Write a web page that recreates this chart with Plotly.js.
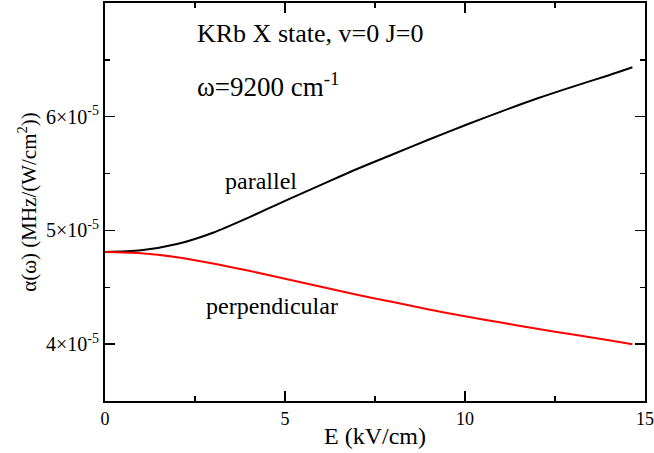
<!DOCTYPE html>
<html>
<head>
<meta charset="utf-8">
<script src="https://cdn.plot.ly/plotly-3.0.1.min.js"></script>
<style>html,body{margin:0;padding:0;background:#fff;}#plot{width:654px;height:453px;}</style>
</head>
<body>
<div id="plot"></div>
<script>
// E field (kV/cm)
const fieldE = [0, 1, 2, 3, 4, 5, 6, 7, 8, 9, 10, 11, 12, 13, 14, 14.65];
// polarizability (units of 1e-5 MHz/(W/cm^2))
const parallel = [4.81, 4.825, 4.88, 4.98, 5.115, 5.26, 5.40, 5.54, 5.67, 5.80, 5.925, 6.045, 6.16, 6.265, 6.365, 6.435];
const perpendicular = [4.81, 4.80, 4.765, 4.71, 4.645, 4.575, 4.505, 4.435, 4.37, 4.305, 4.245, 4.19, 4.135, 4.085, 4.035, 4.0];
const yTickVals = [4, 5, 6];
const yTickText = ["4×10<sup>-5</sup>", "5×10<sup>-5</sup>", "6×10<sup>-5</sup>"];
const xTickVals = [0, 5, 10, 15];

const scale = 1e-5;
const F = "Liberation Serif, Times New Roman, serif";
const W = 540;

const traces = [
  {x: fieldE, y: parallel.map(v => v * scale), mode: 'lines', line: {color: '#000000', width: 2, shape: 'spline', smoothing: 0.8}, name: 'parallel'},
  {x: fieldE, y: perpendicular.map(v => v * scale), mode: 'lines', line: {color: '#ff0000', width: 2, shape: 'spline', smoothing: 0.8}, name: 'perpendicular'}
];

const layout = {
  width: 654, height: 453,
  margin: {l: 105, r: 9, t: 3, b: 52},
  paper_bgcolor: '#fff', plot_bgcolor: '#fff',
  showlegend: false,
  font: {family: F, color: '#000'},
  xaxis: {
    range: [0, 15], tickmode: 'array', tickvals: xTickVals, ticktext: xTickVals.map(String),
    ticks: 'inside', ticklen: 10, tickwidth: 1.5, tickcolor: '#000',
    minor: {ticks: 'inside', ticklen: 5, tickwidth: 1.5, tickcolor: '#000', dtick: 2.5, tick0: 0},
    showline: true, linewidth: 2, linecolor: '#000', mirror: 'ticks',
    showgrid: false, zeroline: false, ticklabeloverflow: 'allow',
    tickfont: {family: F, size: 18, color: '#000'},
    title: {text: 'E (kV/cm)', font: {family: F, size: 24, color: '#000'}, standoff: 0}
  },
  yaxis: {
    range: [3.5e-5, 7.0e-5], tickmode: 'array', tickvals: yTickVals.map(v => v * scale), ticktext: yTickText,
    ticks: 'inside', ticklen: 10, tickwidth: 1.5, tickcolor: '#000',
    minor: {ticks: 'inside', ticklen: 5, tickwidth: 1.5, tickcolor: '#000', tickmode: 'array', tickvals: [4.5e-5, 5.5e-5, 6.5e-5]},
    showline: true, linewidth: 2, linecolor: '#000', mirror: 'ticks',
    showgrid: false, zeroline: false, ticklabeloverflow: 'allow',
    tickfont: {family: F, size: 20, color: '#000'},
    title: {text: 'α(ω) (MHz/(W/cm<sup>2</sup>))', font: {family: F, size: 21, color: '#000'}, standoff: 4}
  },
  annotations: [
    {xref: 'paper', yref: 'paper', x: (195 - 105) / W, y: 1 - (33 - 3) / 398, xanchor: 'left', yanchor: 'middle', showarrow: false,
     text: 'KRb X state, v=0 J=0', font: {family: F, size: 26, color: '#000'}},
    {xref: 'paper', yref: 'paper', x: (195 - 105) / W, y: 1 - (85 - 3) / 398, xanchor: 'left', yanchor: 'middle', showarrow: false,
     text: 'ω=9200 cm<sup>-1</sup>', font: {family: F, size: 27, color: '#000'}},
    {xref: 'paper', yref: 'paper', x: (260.5 - 105) / W, y: 1 - (181 - 3) / 398, xanchor: 'center', yanchor: 'middle', showarrow: false,
     text: 'parallel', font: {family: F, size: 24, color: '#000'}},
    {xref: 'paper', yref: 'paper', x: (272 - 105) / W, y: 1 - (306 - 3) / 398, xanchor: 'center', yanchor: 'middle', showarrow: false,
     text: 'perpendicular', font: {family: F, size: 24, color: '#000'}}
  ]
};

Plotly.newPlot('plot', traces, layout, {staticPlot: true, displayModeBar: false});
</script>
</body>
</html>
